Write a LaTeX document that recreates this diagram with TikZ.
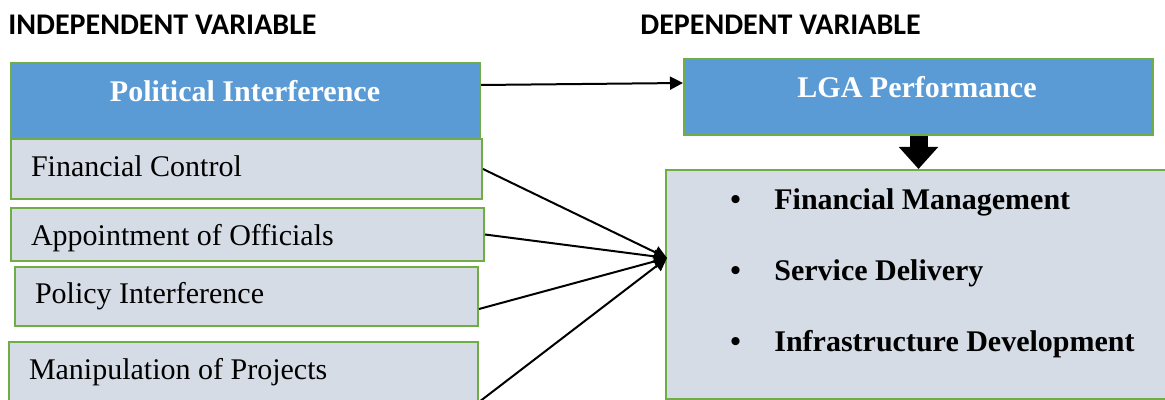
\documentclass[tikz,border=0pt]{standalone}
\usepackage{fontspec}
\setmainfont{Liberation Serif}
\newfontfamily\headfont{Carlito}
\usepackage{xcolor}
\usepackage{tikz}
\usetikzlibrary{arrows.meta}

\definecolor{boxblue}{HTML}{5B9BD5}
\definecolor{boxgreen}{HTML}{70AD47}
\definecolor{boxgrey}{HTML}{D6DCE5}

\tikzset{
  bluebox/.style={draw=boxgreen, line width=1pt, fill=boxblue, anchor=north west, inner sep=0pt},
  greybox/.style={draw=boxgreen, line width=1pt, fill=boxgrey, anchor=north west, inner xsep=10pt, inner ysep=0pt, align=flush left, font=\fontsize{15}{18}\selectfont, text height=11pt, text depth=3.5pt},
  whitetext/.style={text=white, inner sep=0pt, font=\fontsize{15}{18}\selectfont\bfseries},
  itemtext/.style={anchor=west, inner sep=0pt, text height=11pt, text depth=3.5pt, font=\fontsize{15}{18}\selectfont\bfseries},
  heading/.style={anchor=west, inner sep=0pt, font=\headfont\fontsize{15}{18}\selectfont\bfseries},
  conn/.style={line width=1pt, -{Triangle[length=6.5pt,width=6.5pt]}},
}

\begin{document}
\begin{tikzpicture}[x=0.5pt, y=-0.5pt]
\useasboundingbox (0,0) rectangle (1165,400);

\node[heading] (indep) at (8,25) {INDEPENDENT VARIABLE};
\node[heading] (dep) at (640,25) {DEPENDENT VARIABLE};

\node[bluebox, minimum width=234.5pt, minimum height=37.5pt] (pol) at (10,62) {};
\node[whitetext] (poltext) at (245,91) {Political Interference};

\node[greybox, text width=215.5pt, minimum height=30pt] (fin) at (10,138) {Financial Control};
\node[greybox, text width=216.5pt, minimum height=26.5pt, text height=15pt] (app) at (10,207) {Appointment of Officials};
\node[greybox, text width=211.5pt, minimum height=29.5pt] (pint) at (14,266) {Policy Interference};
\node[greybox, text width=214.5pt, minimum height=29.5pt] (man) at (8,341) {Manipulation of Projects};

\node[bluebox, minimum width=234.5pt, minimum height=38pt] (lga) at (683,58) {};
\node[whitetext] (lgatext) at (917,87) {LGA Performance};

\node[greybox, minimum width=251.5pt, minimum height=114.5pt] (perf) at (665,169) {};
\node[itemtext] (fm) at (730,202) {\makebox[22pt][l]{•}Financial Management};
\node[itemtext] (sd) at (730,273) {\makebox[22pt][l]{•}Service Delivery};
\node[itemtext] (id) at (730,344) {\makebox[22pt][l]{•}Infrastructure Development};

\coordinate (hub) at (667,258);

\draw[conn] ([yshift=7.75pt]pol.east) -- ([yshift=7pt]lga.west);
\draw[line width=9pt, -{Triangle[length=11pt,width=19pt]}] (lga.south) -- (lga.south |- perf.north);

\draw[conn] (fin.east) -- (hub);
\draw[conn] (app.east) -- (hub);
\draw[conn] ([yshift=-6.25pt]pint.east) -- (hub);
\draw[conn] (man.south east) -- (hub);
\end{tikzpicture}
\end{document}
